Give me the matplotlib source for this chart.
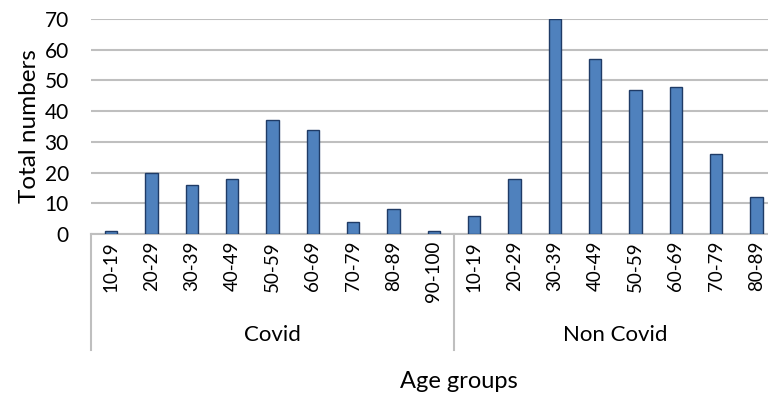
import matplotlib.pyplot as plt
import matplotlib.transforms as mtransforms
import numpy as np

# data
groups = ["Covid", "Non Covid"]
covid_ages = ["10-19", "20-29", "30-39", "40-49", "50-59", "60-69", "70-79", "80-89", "90-100"]
covid_counts = [1, 20, 16, 18, 37, 34, 4, 8, 1]
noncovid_ages = ["10-19", "20-29", "30-39", "40-49", "50-59", "60-69", "70-79", "80-89"]
noncovid_counts = [6, 18, 70, 57, 47, 48, 26, 12]
yticks = [0, 10, 20, 30, 40, 50, 60, 70]

plt.rcParams['font.family'] = ['Lato', 'DejaVu Sans']

W, H = 768, 396
fig = plt.figure(figsize=(W / 100, H / 100), dpi=100)

# plot area in pixels (extends past the right edge like the reference)
left, right, top, bottom = 91, 776.7, 19, 234
ax = fig.add_axes([left / W, 1 - bottom / H, (right - left) / W, (bottom - top) / H])

labels = covid_ages + noncovid_ages
values = covid_counts + noncovid_counts
x = np.arange(len(labels))

ax.bar(x, values, width=0.3, color="#4F81BD", edgecolor="#1F3B66", linewidth=1.0, zorder=3)

ax.set_xlim(-0.5, len(labels) - 0.5)
ax.set_ylim(0, 70)
ax.set_yticks(yticks)
ax.yaxis.grid(True, color="#BFBFBF", linewidth=1.5, zorder=0)
ax.set_axisbelow(True)
for s in ["top", "right", "left"]:
    ax.spines[s].set_visible(False)
ax.spines["bottom"].set_color("#BFBFBF")
ax.spines["bottom"].set_linewidth(1.5)

ax.set_xticks(x)
ax.set_xticklabels(labels, rotation=90, fontsize=13.5, va="top")
ax.tick_params(axis="x", length=0, pad=5)
ax.tick_params(axis="y", length=0, pad=16, labelsize=15)

# group separators below the axis
trans = mtransforms.blended_transform_factory(ax.transData, ax.transAxes)
depth = -(350 - 234) / (bottom - top)
for xs in [-0.5, len(covid_ages) - 0.5]:
    ax.plot([xs, xs], [0, depth], color="#BFBFBF", linewidth=1.5, transform=trans, clip_on=False)

# group labels
y_grp = 1 - 335 / H
fig.text((left + 454) / 2 / W, y_grp, groups[0], ha="center", va="center", fontsize=16)
fig.text((454 + right) / 2 / W, y_grp, groups[1], ha="center", va="center", fontsize=16)

fig.text(459 / W, 1 - 381 / H, "Age groups", ha="center", va="center", fontsize=17)
fig.text(30 / W, 1 - 126 / H, "Total numbers", ha="center", va="center", rotation=90, fontsize=17.5)

fig.savefig("out.png", dpi=100)
